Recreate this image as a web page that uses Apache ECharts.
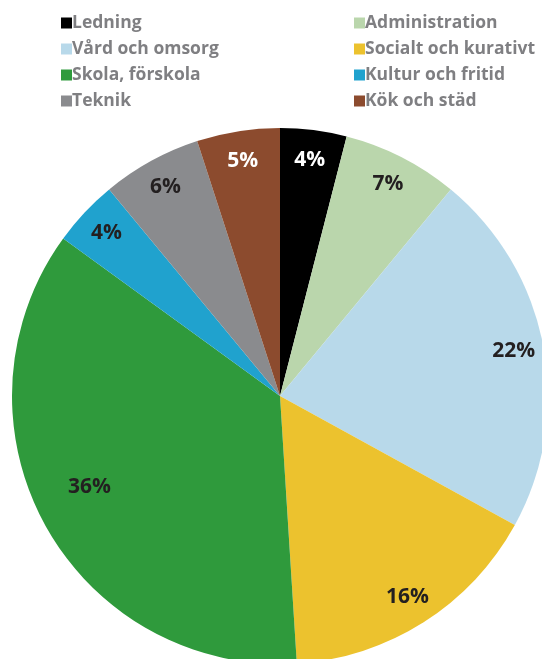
<!DOCTYPE html>
<html><head><meta charset="utf-8">
<script src="https://cdn.jsdelivr.net/npm/echarts@6/dist/echarts.min.js"></script>
<style>html,body{margin:0;padding:0;background:#fff}#c{width:542px;height:659px}</style>
</head><body><div id="c"></div>
<script>
const categories = ['Ledning','Administration','Vård och omsorg','Socialt och kurativt','Skola, förskola','Kultur och fritid','Teknik','Kök och städ'];
const values = [4,7,22,16,36,4,6,5];
const colors = ['#000000','#bad6ac','#b8d9ea','#ecc22e','#2f9a3c','#20a2ce','#8a8b8e','#8c4b2e'];
const labelColors = ['#ffffff','#231f20','#231f20','#231f20','#231f20','#231f20','#231f20','#ffffff'];
const legendLeft = ['Ledning','Vård och omsorg','Skola, förskola','Teknik'];
const legendRight = ['Administration','Socialt och kurativt','Kultur och fritid','Kök och städ'];

const chart = echarts.init(document.getElementById('c'));
const legendBase = {
  orient:'vertical', top:8, itemWidth:11, itemHeight:11, itemGap:6, icon:'rect',
  textStyle:{color:'#7f7f82', fontSize:17.5, fontWeight:'bold', fontFamily:'Open Sans', lineHeight:20, padding:[0,0,0,-5]}
};
chart.setOption({
  animation:false,
  color: colors,
  legend:[
    Object.assign({left:56, data:legendLeft}, legendBase),
    Object.assign({left:349, data:legendRight}, legendBase)
  ],
  series:[{
    type:'pie', center:[280,396], radius:[0,268], startAngle:90, clockwise:true,
    label:{show:false}, labelLine:{show:false}, silent:true,
    data: categories.map((n,i)=>({name:n, value:values[i], itemStyle:{color:colors[i]}}))
  },{
    type:'pie', center:[280,396], radius:[202,268], startAngle:90, clockwise:true,
    silent:true, legendHoverLink:false,
    itemStyle:{color:'rgba(0,0,0,0)'},
    label:{show:true, position:'inside', formatter:'{c}%', fontSize:21, fontWeight:'bold', fontFamily:'Open Sans'},
    labelLine:{show:false},
    data: categories.map((n,i)=>({name:n, value:values[i], itemStyle:{color:'rgba(0,0,0,0)'},
      label: i===4 ? {color:labelColors[i], formatter:'{c}%\n ', lineHeight:48, padding:[0,0,0,36]} : {color:labelColors[i]}}))
  }]
});
</script></body></html>
